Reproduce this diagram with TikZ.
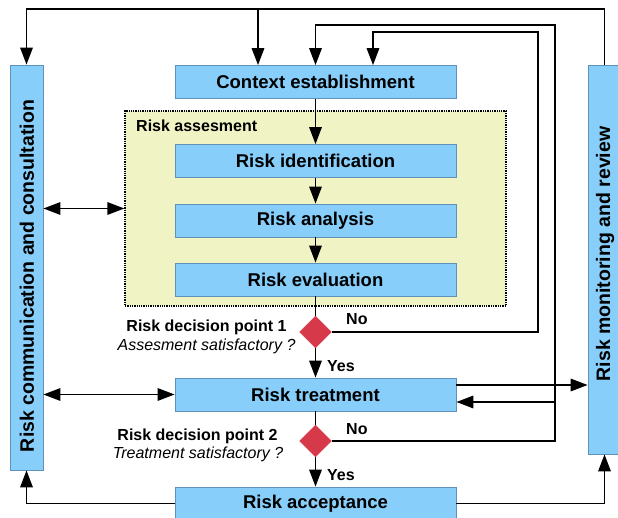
\documentclass[tikz,border=0pt]{standalone}
\usepackage{fontspec}
\setmainfont{Liberation Sans}
\usetikzlibrary{arrows.meta,shapes.geometric}
\definecolor{boxblue}{RGB}{135,206,250}
\definecolor{boxedge}{RGB}{95,145,185}
\definecolor{assessfill}{RGB}{240,243,196}
\definecolor{diared}{RGB}{214,57,74}
\begin{document}
\begin{tikzpicture}[x=1pt,y=-1pt,
  box/.style={draw=boxedge, line width=0.8pt, fill=boxblue, minimum width=281pt, minimum height=33pt, inner sep=0pt, font=\bfseries\fontsize{18.5}{22}\selectfont},
  bar/.style={draw=boxedge, line width=0.8pt, fill=boxblue, minimum width=33pt, inner sep=0pt},
  bartext/.style={rotate=90, inner sep=0pt, font=\bfseries\fontsize{19.5}{23}\selectfont},
  dia/.style={diamond, fill=diared, draw=diared, minimum width=32pt, minimum height=32pt, inner sep=0pt},
  conn/.style={line width=1.7pt, black},
  tip/.tip={Triangle[length=17pt,width=12.5pt]},
  arr/.style={conn, -tip},
  darr/.style={conn, tip-tip},
  lbl/.style={font=\bfseries\fontsize{16}{19}\selectfont, inner sep=0pt},
  ilbl/.style={font=\itshape\fontsize{16}{19}\selectfont, inner sep=0pt},
]
\useasboundingbox (0,0) rectangle (618,518);

% side bars
\node[bar, minimum height=405pt] (lb) at (26.5,267.5) {};
\node[bar, minimum height=389pt] (rb) at (604.5,259.5) {};
\node[bartext] (lbt) at (27,276) {Risk communication and consultation};
\node[bartext] (rbt) at (605,254) {Risk monitoring and review};

% assessment group
\node[draw, densely dotted, line width=1.3pt, fill=assessfill, minimum width=381pt, minimum height=195pt, inner sep=0pt] (ra) at (315.5,208.5) {};
\node[lbl, anchor=base west] (ral) at (136,132) {Risk assesment};

% process boxes
\node[box] (ctx) at (315.5,82) {Context establishment};
\node[box] (rid) at (315.5,161) {Risk identification};
\node[box] (ran) at (315.5,220.5) {Risk analysis};
\node[box] (rev) at (315.5,279.5) {Risk evaluation};
\node[dia] (d1) at (315.5,332) {};
\node[box] (rt) at (315.5,394.5) {Risk treatment};
\node[dia] (d2) at (315.5,441) {};
\node[box] (rac) at (315.5,503.5) {Risk acceptance};

% decision labels
\node[lbl, anchor=base] (d1a) at (206.5,332) {Risk decision point 1};
\node[ilbl, anchor=base] (d1b) at (206.5,350) {Assesment satisfactory ?};
\node[lbl, anchor=base] (d2a) at (197.5,440) {Risk decision point 2};
\node[ilbl, anchor=base] (d2b) at (198,458) {Treatment satisfactory ?};
\node[lbl, anchor=base west] (no1) at (346,325) {No};
\node[lbl, anchor=base west] (yes1) at (327,371) {Yes};
\node[lbl, anchor=base west] (no2) at (346,434) {No};
\node[lbl, anchor=base west] (yes2) at (327,480) {Yes};

% top frame
\coordinate (tl) at (26.5,9);
\coordinate (tr) at (604.5,9);
\coordinate (tm) at (258,9);
\draw[arr] (rb.north) -- (tr) -- (tl) -- (lb.north);
\draw[arr] (tm) -- (tm |- ctx.north);

% feedback loops
\coordinate (n1a) at (538,32);
\coordinate (n1b) at (373,32);
\draw[arr] (d1.east) -| (n1a) -- (n1b) -- (n1b |- ctx.north);
\coordinate (n2a) at (555,25);
\draw[arr] (d2.east) -| (n2a) -| (ctx.north);
\coordinate (j2) at (555,402);
\draw[arr] (j2) -- (j2 -| rt.east);
\path ([yshift=9.5pt]rt.east) coordinate (j1);
\draw[arr] (j1) -- (j1 -| rb.west);

% communication arrows
\draw[darr] (lb.east |- ra.west) -- (ra.west);
\draw[darr] (lb.east |- rt.west) -- (rt.west);

% main flow
\draw[arr] (ctx.south) -- (rid.north);
\draw[arr] (rid.south) -- (ran.north);
\draw[arr] (ran.south) -- (rev.north);
\draw[conn] (rev.south) -- (d1.north);
\draw[arr] (d1.south) -- (rt.north);
\draw[conn] (rt.south) -- (d2.north);
\draw[arr] (d2.south) -- (rac.north);

% bottom returns
\draw[arr] (rac.west) -| (lb.south);
\draw[arr] (rac.east) -| (rb.south);
\end{tikzpicture}
\end{document}
